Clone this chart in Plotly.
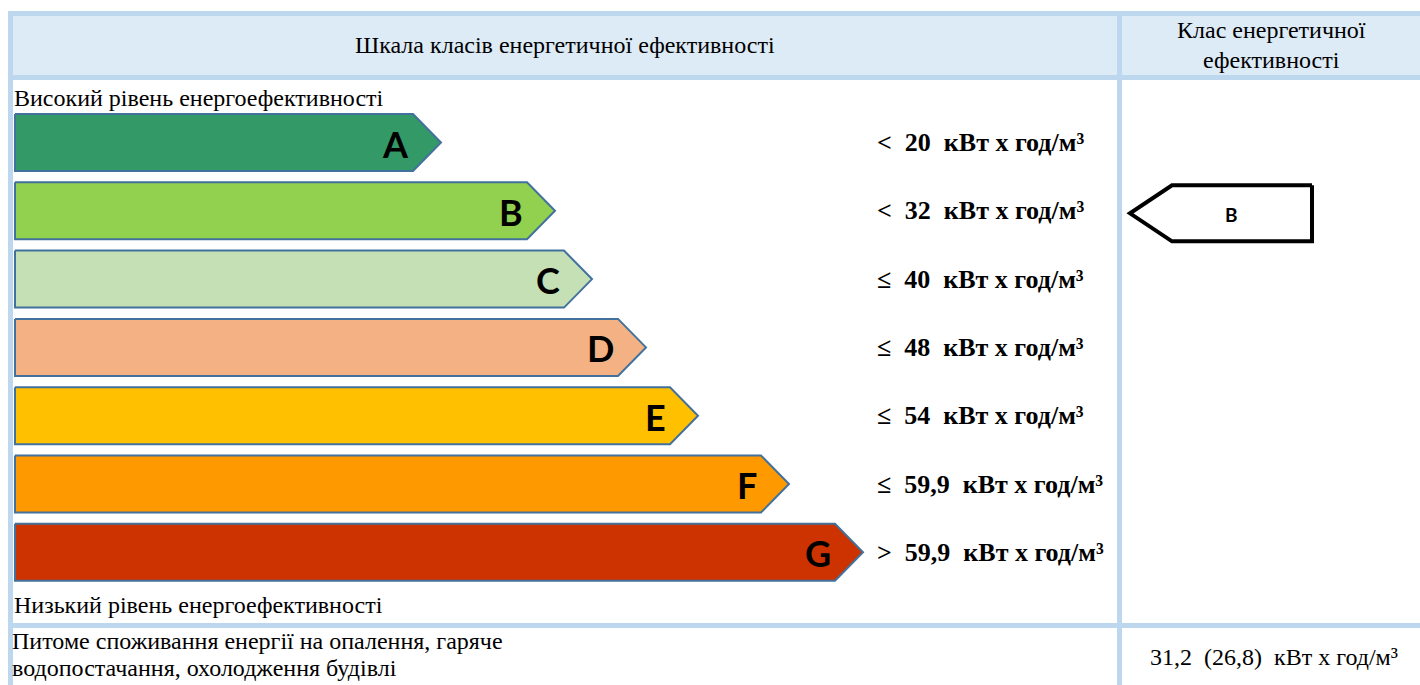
import plotly.graph_objects as go

# ---- data ----
classes = ["A", "B", "C", "D", "E", "F", "G"]
arrow_end = [441, 555, 592, 646, 698, 789, 863]          # arrow tip position (scale units)
fill_colors = ["#339966", "#92D050", "#C5E0B4", "#F4B183", "#FFC000", "#FF9900", "#CC3300"]
operators = ["<", "<", "≤", "≤", "≤", "≤", ">"]
thresholds = ["20", "32", "40", "48", "54", "59,9", "59,9"]
unit = "кВт х год/м³"
rated_class = "B"
specific_value = "31,2"
specific_value_alt = "26,8"

header_left = "Шкала класів енергетичної ефективності"
header_right = ["Клас енергетичної", "ефективності"]
top_note = "Високий рівень енергоефективності"
bottom_note = "Низький рівень енергоефективності"
footer_left = ["Питоме споживання енергії на опалення, гаряче", "водопостачання, охолодження будівлі"]

# ---- layout constants ----
W, H = 1420, 685
row0_top = 114
row_step = 68.3
row_h = 57
bar_left = 15
notch = 28
border_c = "#BDD7EE"
head_fill = "#DDEBF7"
serif = "Liberation Serif"
sans = "Lato"
txt = 24

fig = go.Figure()

shapes = [
    dict(type="rect", x0=13, x1=W, y0=16, y1=75, fillcolor=head_fill, line_width=0, layer="below"),
    dict(type="rect", x0=8, x1=W, y0=11, y1=16, fillcolor=border_c, line_width=0, layer="below"),
    dict(type="rect", x0=8, x1=13, y0=11, y1=H + 5, fillcolor=border_c, line_width=0, layer="below"),
    dict(type="rect", x0=8, x1=W, y0=75, y1=80, fillcolor=border_c, line_width=0, layer="below"),
    dict(type="rect", x0=1117, x1=1122, y0=11, y1=H + 5, fillcolor=border_c, line_width=0, layer="below"),
    dict(type="rect", x0=8, x1=W, y0=623, y1=628, fillcolor=border_c, line_width=0, layer="below"),
]

annotations = []

def ann(x, y, text, size=txt, family=serif, xanchor="left", bold=False, color="black"):
    annotations.append(dict(
        x=x, y=y, xref="x", yref="y", text=f"<b>{text}</b>" if bold else text,
        showarrow=False, xanchor=xanchor, yanchor="middle",
        font=dict(family=family, size=size, color=color)))

nb = "\u00a0"
for i, (c, end, col, op, th) in enumerate(zip(classes, arrow_end, fill_colors, operators, thresholds)):
    top = row0_top + i * row_step
    bot = top + row_h
    mid = (top + bot) / 2
    xs = [bar_left, end - notch, end, end - notch, bar_left, bar_left]
    ys = [top, top, mid, bot, bot, top]
    fig.add_trace(go.Scatter(x=xs, y=ys, mode="lines", fill="toself", fillcolor=col,
                             line=dict(color="#41719C", width=2), hoverinfo="skip", showlegend=False))
    ann(end - notch - 2, mid + 1, c, size=36, family=sans, xanchor="right", bold=True)
    ann(875, mid, f"{op}{nb}{nb}{th}{nb}{nb}{unit}", size=26, bold=True)

# rated class indicator
ri = classes.index(rated_class)
r_top = row0_top + ri * row_step + 3
r_bot = r_top + 56
r_mid = (r_top + r_bot) / 2
ix = [1312, 1172, 1130, 1172, 1312, 1312]
iy = [r_top, r_top, r_mid, r_bot, r_bot, r_top]
fig.add_trace(go.Scatter(x=ix, y=iy, mode="lines", fill="toself", fillcolor="white",
                         line=dict(color="black", width=4), hoverinfo="skip", showlegend=False))
ann(1231, r_mid + 1, rated_class, size=19, family=sans, xanchor="center", bold=True)

# texts
ann(565, 45, header_left, xanchor="center")
ann(1271, 30, header_right[0], xanchor="center")
ann(1271, 60, header_right[1], xanchor="center")
ann(12, 98, top_note)
ann(12, 605, bottom_note)
ann(10, 641, footer_left[0])
ann(10, 668, footer_left[1])
ann(1274, 657, f"{specific_value}{nb}{nb}({specific_value_alt}){nb}{nb}{unit}", xanchor="center")

fig.update_layout(
    width=W, height=H, margin=dict(l=0, r=0, t=0, b=0),
    paper_bgcolor="white", plot_bgcolor="white",
    xaxis=dict(range=[0, W], visible=False, fixedrange=True),
    yaxis=dict(range=[H, 0], visible=False, fixedrange=True),
    shapes=shapes, annotations=annotations, showlegend=False,
)

fig.write_html("out.html", config={"displayModeBar": False},
               post_script="document.body.style.margin='0';document.body.style.overflow='hidden';")
